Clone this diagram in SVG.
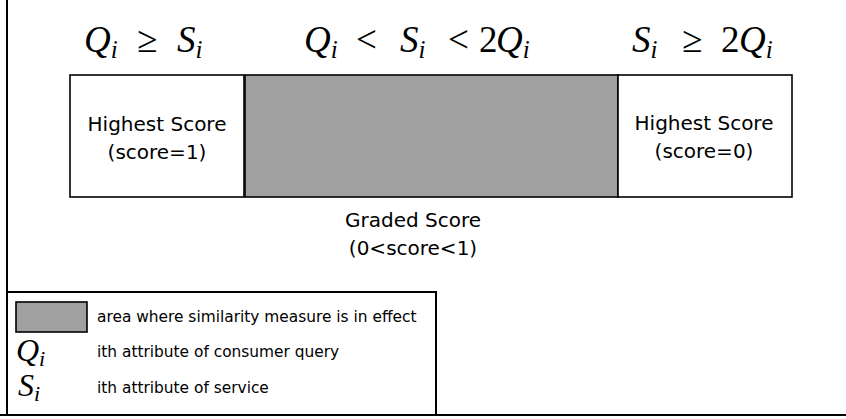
<svg xmlns="http://www.w3.org/2000/svg" width="846" height="419" viewBox="0 0 846 419">
<style>
.m{font-family:"Liberation Serif","DejaVu Serif",serif;font-style:italic;font-size:37px;fill:#000}
.rel{font-style:normal}
.sub{font-size:25px}
.lm{font-family:"Liberation Serif","DejaVu Serif",serif;font-style:italic;font-size:32px;fill:#000}
.lsub{font-size:22px}
.t{font-family:"DejaVu Sans","Noto Sans",sans-serif;font-size:20px;fill:#000;text-anchor:middle}
.lt{font-family:"DejaVu Sans","Noto Sans",sans-serif;font-size:15.4px;fill:#000}
.box{fill:#fff;stroke:#000;stroke-width:1.6}
.gray{fill:#a0a0a0;stroke:#000;stroke-width:1.6}
.frame{fill:none;stroke:#000;stroke-width:2}
</style>
<rect width="846" height="419" fill="#fff"/>
<g id="frame">
<line class="frame" x1="7" y1="0" x2="7" y2="415"/>
<line class="frame" x1="0" y1="415" x2="846" y2="415"/>
</g>
<g id="cond-left">
<text class="m" y="52"><tspan x="84">Q</tspan><tspan class="sub" dy="6">i</tspan><tspan class="rel" x="137" dy="-6">≥</tspan><tspan x="177">S</tspan><tspan class="sub" dy="6">i</tspan></text>
</g>
<g id="cond-mid">
<text class="m" y="52"><tspan x="304">Q</tspan><tspan class="sub" dy="6">i</tspan><tspan class="rel" x="356" dy="-6">&lt;</tspan><tspan x="400">S</tspan><tspan class="sub" dy="6">i</tspan><tspan class="rel" x="448" dy="-6">&lt;</tspan><tspan class="rel" x="479">2</tspan><tspan x="496">Q</tspan><tspan class="sub" dy="6">i</tspan></text>
</g>
<g id="cond-right">
<text class="m" y="52"><tspan x="632">S</tspan><tspan class="sub" dy="6">i</tspan><tspan class="rel" x="682" dy="-6">≥</tspan><tspan class="rel" x="721">2</tspan><tspan x="739">Q</tspan><tspan class="sub" dy="6">i</tspan></text>
</g>
<g id="box-left">
<rect class="box" x="70" y="75" width="174" height="122"/>
<text class="t" x="157" y="131">Highest Score</text>
<text class="t" x="157" y="159">(score=1)</text>
</g>
<g id="box-mid">
<rect class="gray" x="245" y="75" width="373" height="122"/>
</g>
<g id="box-right">
<rect class="box" x="618" y="75" width="174" height="122"/>
<text class="t" x="704" y="130">Highest Score</text>
<text class="t" x="704" y="158">(score=0)</text>
</g>
<g id="graded-label">
<text class="t" x="413" y="227">Graded Score</text>
<text class="t" x="413" y="255">(0&lt;score&lt;1)</text>
</g>
<g id="legend">
<rect x="7" y="292" width="429" height="123" fill="#fff" stroke="#000" stroke-width="2"/>
<rect class="gray" x="16" y="302" width="71" height="30"/>
<text class="lt" x="97" y="322">area where similarity measure is in effect</text>
<text class="lm" x="16" y="361">Q<tspan class="lsub" dy="5">i</tspan></text>
<text class="lt" x="97" y="357">ith attribute of consumer query</text>
<text class="lm" x="18" y="396">S<tspan class="lsub" dy="5">i</tspan></text>
<text class="lt" x="97" y="393">ith attribute of service</text>
</g>
</svg>
